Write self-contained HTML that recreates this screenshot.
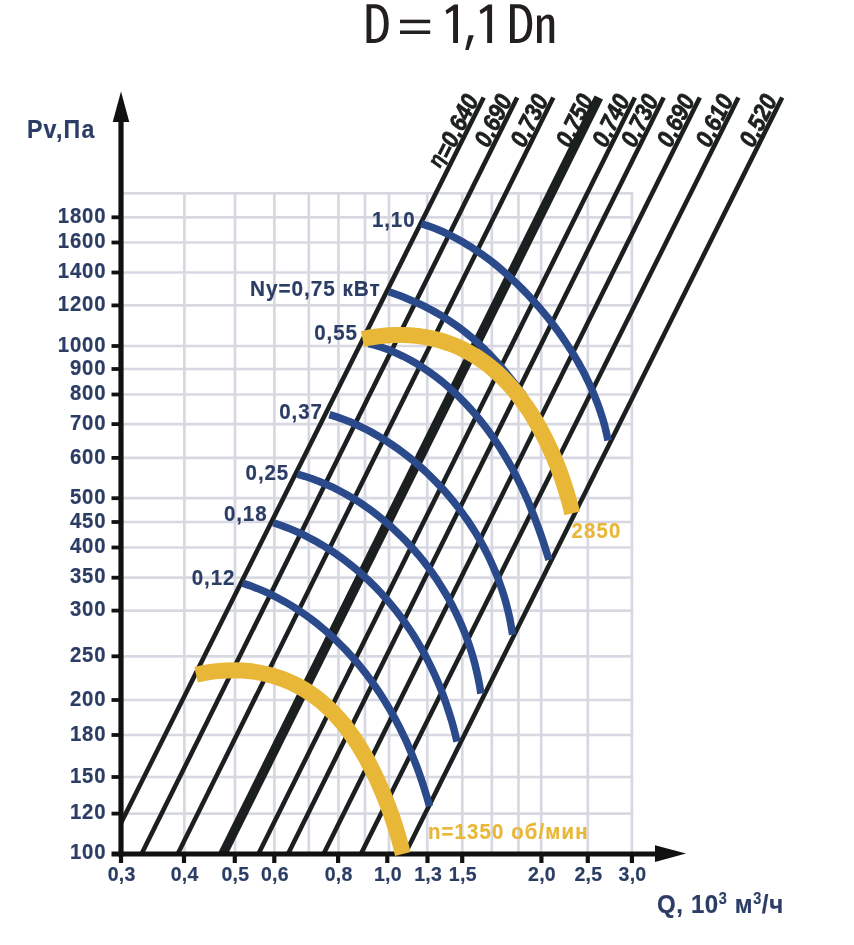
<!DOCTYPE html>
<html><head><meta charset="utf-8"><title>D = 1,1 Dn</title>
<style>html,body{margin:0;padding:0;background:#fff}svg{display:block}text{font-family:"Liberation Sans",sans-serif}</style></head><body>
<svg width="854" height="945" viewBox="0 0 854 945" style="will-change:transform">
<rect width="854" height="945" fill="#fff"/>
<g stroke="#d8d8e3" stroke-width="2.7" fill="none">
<line x1="184.4" y1="192.1" x2="184.4" y2="854"/>
<line x1="235.0" y1="192.1" x2="235.0" y2="854"/>
<line x1="274.4" y1="192.1" x2="274.4" y2="854"/>
<line x1="308.8" y1="192.1" x2="308.8" y2="854"/>
<line x1="338.5" y1="192.1" x2="338.5" y2="854"/>
<line x1="365.0" y1="192.1" x2="365.0" y2="854"/>
<line x1="389.0" y1="192.1" x2="389.0" y2="854"/>
<line x1="427.3" y1="192.1" x2="427.3" y2="854"/>
<line x1="462.3" y1="192.1" x2="462.3" y2="854"/>
<line x1="491.8" y1="192.1" x2="491.8" y2="854"/>
<line x1="518.5" y1="192.1" x2="518.5" y2="854"/>
<line x1="541.2" y1="192.1" x2="541.2" y2="854"/>
<line x1="587.8" y1="192.1" x2="587.8" y2="854"/>
<line x1="631.9" y1="192.1" x2="631.9" y2="854"/>
<line x1="121" y1="193.4" x2="633.2" y2="193.4"/>
<line x1="121" y1="217.3" x2="633.2" y2="217.3"/>
<line x1="121" y1="242.5" x2="633.2" y2="242.5"/>
<line x1="121" y1="272.5" x2="633.2" y2="272.5"/>
<line x1="121" y1="305.4" x2="633.2" y2="305.4"/>
<line x1="121" y1="346.0" x2="633.2" y2="346.0"/>
<line x1="121" y1="369.0" x2="633.2" y2="369.0"/>
<line x1="121" y1="394.5" x2="633.2" y2="394.5"/>
<line x1="121" y1="424.1" x2="633.2" y2="424.1"/>
<line x1="121" y1="457.9" x2="633.2" y2="457.9"/>
<line x1="121" y1="498.2" x2="633.2" y2="498.2"/>
<line x1="121" y1="522.0" x2="633.2" y2="522.0"/>
<line x1="121" y1="547.5" x2="633.2" y2="547.5"/>
<line x1="121" y1="577.7" x2="633.2" y2="577.7"/>
<line x1="121" y1="610.6" x2="633.2" y2="610.6"/>
<line x1="121" y1="656.3" x2="633.2" y2="656.3"/>
<line x1="121" y1="700.0" x2="633.2" y2="700.0"/>
<line x1="121" y1="735.0" x2="633.2" y2="735.0"/>
<line x1="121" y1="777.0" x2="633.2" y2="777.0"/>
<line x1="121" y1="813.6" x2="633.2" y2="813.6"/>
</g>
<g stroke="#1c1f1f" fill="none" stroke-linecap="butt">
<line x1="483.7" y1="97.5" x2="121" y2="823.0" stroke-width="4.6"/>
<line x1="517.2" y1="97.5" x2="141.5" y2="854.0" stroke-width="4.6"/>
<line x1="553.3" y1="97.5" x2="177.7" y2="854.0" stroke-width="4.6"/>
<line x1="598.8" y1="97.5" x2="222.8" y2="854.0" stroke-width="9.4"/>
<line x1="634.9" y1="97.5" x2="258.4" y2="854.0" stroke-width="4.6"/>
<line x1="663.7" y1="97.5" x2="288.0" y2="854.0" stroke-width="4.6"/>
<line x1="699.8" y1="97.5" x2="323.6" y2="854.0" stroke-width="4.6"/>
<line x1="738.4" y1="97.5" x2="360.9" y2="854.0" stroke-width="4.6"/>
<line x1="782.2" y1="97.5" x2="405.0" y2="854.0" stroke-width="4.6"/>
</g>
<g stroke="#2b4a8b" stroke-width="7.5" fill="none">
<path d="M421.3,223.7 L428.6,226.1 L435.8,228.8 L442.9,231.8 L449.8,235.0 L456.5,238.5 L463.2,242.2 L469.7,246.2 L476.0,250.3 L482.3,254.6 L488.4,259.1 L494.5,263.8 L500.4,268.7 L506.1,273.7 L511.8,278.8 L517.4,284.1 L522.8,289.5 L528.1,295.0 L533.3,300.7 L538.4,306.4 L543.4,312.3 L548.2,318.2 L552.9,324.3 L557.5,330.4 L561.9,336.7 L566.2,343.0 L570.4,349.4 L574.4,355.9 L578.2,362.4 L581.9,369.1 L585.4,375.8 L588.7,382.6 L591.9,389.5 L594.8,396.5 L597.6,403.6 L600.1,410.7 L602.5,418.0 L604.6,425.4 L606.4,432.8 L608.0,440.4"/>
<path d="M389.0,291.7 L393.2,293.2 L397.3,294.7 L401.5,296.3 L405.6,298.0 L409.7,299.7 L413.8,301.5 L417.9,303.3 L422.0,305.2 L426.0,307.2 L429.9,309.3 L433.9,311.4 L437.7,313.6 L441.6,315.8 L445.4,318.2 L449.1,320.6 L452.8,323.1 L456.5,325.6 L460.1,328.2 L463.6,330.9 L467.1,333.7 L470.6,336.5 L473.9,339.4 L477.3,342.3 L480.5,345.4 L483.8,348.4 L486.9,351.6 L490.0,354.7 L493.1,358.0 L496.1,361.3 L499.1,364.6 L502.0,368.0 L504.9,371.4 L507.7,374.8 L510.5,378.3 L513.3,381.8 L516.0,385.3 L518.7,388.9 L521.4,392.4 L524.0,396.0"/>
<path d="M368.5,343.5 L375.7,345.4 L382.9,347.7 L389.9,350.3 L396.8,353.3 L403.6,356.5 L410.2,360.0 L416.8,363.8 L423.2,367.8 L429.5,372.1 L435.6,376.5 L441.6,381.2 L447.4,386.1 L453.1,391.2 L458.6,396.4 L463.9,401.8 L469.1,407.4 L474.2,413.0 L479.1,418.9 L483.8,424.8 L488.3,430.8 L492.8,437.0 L497.0,443.2 L501.1,449.6 L505.0,456.0 L508.8,462.5 L512.5,469.0 L516.0,475.7 L519.3,482.4 L522.6,489.1 L525.7,496.0 L528.7,502.8 L531.5,509.8 L534.3,516.8 L536.9,523.8 L539.5,530.9 L542.0,538.1 L544.4,545.3 L546.7,552.6 L549.0,559.9"/>
<path d="M329.4,414.6 L336.7,416.9 L343.9,419.5 L351.0,422.3 L358.1,425.5 L365.0,428.8 L371.8,432.4 L378.5,436.2 L385.1,440.2 L391.6,444.5 L398.0,448.9 L404.2,453.5 L410.3,458.3 L416.3,463.2 L422.1,468.4 L427.8,473.6 L433.3,479.1 L438.7,484.6 L444.0,490.3 L449.1,496.2 L454.0,502.1 L458.8,508.2 L463.3,514.4 L467.8,520.7 L472.0,527.1 L476.1,533.6 L480.0,540.2 L483.7,547.0 L487.2,553.8 L490.5,560.7 L493.6,567.7 L496.6,574.7 L499.3,581.9 L501.8,589.2 L504.2,596.5 L506.3,604.0 L508.2,611.5 L509.9,619.1 L511.3,626.8 L512.6,634.6"/>
<path d="M297.3,474.2 L304.7,476.3 L312.1,478.8 L319.3,481.5 L326.4,484.5 L333.5,487.7 L340.4,491.2 L347.2,494.9 L353.8,498.8 L360.4,502.9 L366.8,507.3 L373.0,511.8 L379.2,516.6 L385.2,521.5 L391.0,526.6 L396.7,531.9 L402.3,537.3 L407.7,542.9 L412.9,548.6 L418.0,554.4 L422.9,560.4 L427.6,566.6 L432.2,572.8 L436.6,579.2 L440.8,585.7 L444.8,592.3 L448.7,598.9 L452.4,605.7 L455.8,612.6 L459.1,619.6 L462.2,626.7 L465.1,633.8 L467.8,641.0 L470.3,648.3 L472.6,655.7 L474.7,663.2 L476.5,670.7 L478.2,678.3 L479.7,686.0 L480.9,693.7"/>
<path d="M273.4,522.7 L280.6,525.2 L287.8,527.9 L294.8,530.9 L301.8,534.0 L308.6,537.5 L315.4,541.1 L322.0,544.9 L328.5,548.9 L334.9,553.2 L341.2,557.6 L347.3,562.2 L353.3,567.0 L359.2,571.9 L364.9,577.0 L370.5,582.3 L375.9,587.7 L381.2,593.2 L386.3,598.9 L391.3,604.8 L396.1,610.7 L400.7,616.8 L405.2,623.0 L409.6,629.3 L413.8,635.7 L417.8,642.3 L421.6,648.9 L425.3,655.6 L428.8,662.4 L432.2,669.3 L435.4,676.2 L438.4,683.2 L441.3,690.3 L444.0,697.5 L446.5,704.7 L448.9,712.0 L451.2,719.3 L453.3,726.7 L455.2,734.1 L457.0,741.6"/>
<path d="M242.5,583.1 L249.9,585.6 L257.1,588.4 L264.3,591.4 L271.4,594.7 L278.3,598.2 L285.1,601.9 L291.8,605.9 L298.4,610.1 L304.8,614.5 L311.1,619.0 L317.2,623.8 L323.3,628.8 L329.1,633.9 L334.9,639.1 L340.4,644.6 L345.9,650.2 L351.1,655.9 L356.3,661.7 L361.2,667.7 L366.1,673.8 L370.7,680.1 L375.2,686.4 L379.6,692.8 L383.8,699.4 L387.8,706.0 L391.7,712.7 L395.5,719.5 L399.1,726.4 L402.5,733.3 L405.9,740.3 L409.0,747.4 L412.0,754.6 L414.9,761.8 L417.7,769.1 L420.3,776.4 L422.8,783.8 L425.1,791.2 L427.4,798.7 L429.5,806.2"/>
</g>
<g stroke="#111" fill="none">
<line x1="121" y1="118" x2="121" y2="856.4" stroke-width="5.2"/>
<line x1="111.5" y1="854" x2="658" y2="854" stroke-width="4.8"/>
<line x1="111.5" y1="217.3" x2="121" y2="217.3" stroke-width="3.8"/>
<line x1="111.5" y1="242.5" x2="121" y2="242.5" stroke-width="3.8"/>
<line x1="111.5" y1="272.5" x2="121" y2="272.5" stroke-width="3.8"/>
<line x1="111.5" y1="305.4" x2="121" y2="305.4" stroke-width="3.8"/>
<line x1="111.5" y1="346.0" x2="121" y2="346.0" stroke-width="3.8"/>
<line x1="111.5" y1="369.0" x2="121" y2="369.0" stroke-width="3.8"/>
<line x1="111.5" y1="394.5" x2="121" y2="394.5" stroke-width="3.8"/>
<line x1="111.5" y1="424.1" x2="121" y2="424.1" stroke-width="3.8"/>
<line x1="111.5" y1="457.9" x2="121" y2="457.9" stroke-width="3.8"/>
<line x1="111.5" y1="498.2" x2="121" y2="498.2" stroke-width="3.8"/>
<line x1="111.5" y1="522.0" x2="121" y2="522.0" stroke-width="3.8"/>
<line x1="111.5" y1="547.5" x2="121" y2="547.5" stroke-width="3.8"/>
<line x1="111.5" y1="577.7" x2="121" y2="577.7" stroke-width="3.8"/>
<line x1="111.5" y1="610.6" x2="121" y2="610.6" stroke-width="3.8"/>
<line x1="111.5" y1="656.3" x2="121" y2="656.3" stroke-width="3.8"/>
<line x1="111.5" y1="700.0" x2="121" y2="700.0" stroke-width="3.8"/>
<line x1="111.5" y1="735.0" x2="121" y2="735.0" stroke-width="3.8"/>
<line x1="111.5" y1="777.0" x2="121" y2="777.0" stroke-width="3.8"/>
<line x1="111.5" y1="813.6" x2="121" y2="813.6" stroke-width="3.8"/>
<line x1="121.0" y1="854" x2="121.0" y2="863" stroke-width="4.2"/>
<line x1="184.0" y1="854" x2="184.0" y2="863" stroke-width="4.2"/>
<line x1="234.8" y1="854" x2="234.8" y2="863" stroke-width="4.2"/>
<line x1="274.3" y1="854" x2="274.3" y2="863" stroke-width="4.2"/>
<line x1="338.1" y1="854" x2="338.1" y2="863" stroke-width="4.2"/>
<line x1="387.3" y1="854" x2="387.3" y2="863" stroke-width="4.2"/>
<line x1="427.5" y1="854" x2="427.5" y2="863" stroke-width="4.2"/>
<line x1="462.2" y1="854" x2="462.2" y2="863" stroke-width="4.2"/>
<line x1="541.4" y1="854" x2="541.4" y2="863" stroke-width="4.2"/>
<line x1="587.8" y1="854" x2="587.8" y2="863" stroke-width="4.2"/>
<line x1="631.9" y1="854" x2="631.9" y2="863" stroke-width="4.2"/>
</g>
<path d="M121,91.5 L129.3,122 L112.7,122 Z" fill="#111"/>
<path d="M686,853.6 L655,845.3 L655,861.9 Z" fill="#111"/>
<g stroke="#e9b737" stroke-width="16" fill="none">
<path d="M196.1,674.7 L203.4,673.1 L211.0,671.8 L218.8,670.9 L226.8,670.4 L234.9,670.2 L243.0,670.6 L251.1,671.3 L259.1,672.5 L266.9,674.2 L274.6,676.3 L282.2,678.8 L289.5,681.8 L296.6,685.2 L303.5,689.0 L310.1,693.1 L316.4,697.7 L322.5,702.6 L328.3,707.8 L333.9,713.3 L339.2,719.1 L344.3,725.1 L349.1,731.4 L353.7,737.9 L358.1,744.5 L362.2,751.3 L366.2,758.2 L369.9,765.2 L373.5,772.3 L377.0,779.5 L380.2,786.8 L383.3,794.0 L386.3,801.4 L389.1,808.7 L391.8,816.1 L394.3,823.6 L396.7,831.1 L398.9,838.6 L400.9,846.3 L402.8,854.0"/>
<path d="M362.5,339.0 L370.1,337.5 L377.9,336.4 L385.8,335.5 L393.8,335.1 L401.9,335.0 L409.9,335.3 L417.9,336.0 L425.8,337.2 L433.7,338.8 L441.3,340.8 L448.9,343.3 L456.2,346.1 L463.4,349.4 L470.3,353.1 L477.1,357.2 L483.6,361.7 L489.9,366.5 L495.9,371.6 L501.7,377.0 L507.3,382.7 L512.6,388.6 L517.7,394.8 L522.5,401.2 L527.2,407.7 L531.6,414.4 L535.7,421.3 L539.7,428.2 L543.4,435.2 L547.0,442.2 L550.3,449.4 L553.5,456.5 L556.5,463.6 L559.3,470.7 L561.9,477.9 L564.3,485.0 L566.5,492.1 L568.6,499.2 L570.5,506.3 L572.2,513.4"/>
</g>
<text transform="translate(106.3,222.9) scale(0.925,1)" font-size="22.0" letter-spacing="0.86" text-anchor="end" fill="#2b3d65" stroke="#2b3d65" stroke-width="0.2" font-weight="bold">1800</text>
<text transform="translate(106.3,248.1) scale(0.925,1)" font-size="22.0" letter-spacing="0.86" text-anchor="end" fill="#2b3d65" stroke="#2b3d65" stroke-width="0.2" font-weight="bold">1600</text>
<text transform="translate(106.3,278.1) scale(0.925,1)" font-size="22.0" letter-spacing="0.86" text-anchor="end" fill="#2b3d65" stroke="#2b3d65" stroke-width="0.2" font-weight="bold">1400</text>
<text transform="translate(106.3,311.0) scale(0.925,1)" font-size="22.0" letter-spacing="0.86" text-anchor="end" fill="#2b3d65" stroke="#2b3d65" stroke-width="0.2" font-weight="bold">1200</text>
<text transform="translate(106.3,351.6) scale(0.925,1)" font-size="22.0" letter-spacing="0.86" text-anchor="end" fill="#2b3d65" stroke="#2b3d65" stroke-width="0.2" font-weight="bold">1000</text>
<text transform="translate(106.3,374.6) scale(0.925,1)" font-size="22.0" letter-spacing="0.86" text-anchor="end" fill="#2b3d65" stroke="#2b3d65" stroke-width="0.2" font-weight="bold">900</text>
<text transform="translate(106.3,400.1) scale(0.925,1)" font-size="22.0" letter-spacing="0.86" text-anchor="end" fill="#2b3d65" stroke="#2b3d65" stroke-width="0.2" font-weight="bold">800</text>
<text transform="translate(106.3,429.7) scale(0.925,1)" font-size="22.0" letter-spacing="0.86" text-anchor="end" fill="#2b3d65" stroke="#2b3d65" stroke-width="0.2" font-weight="bold">700</text>
<text transform="translate(106.3,463.5) scale(0.925,1)" font-size="22.0" letter-spacing="0.86" text-anchor="end" fill="#2b3d65" stroke="#2b3d65" stroke-width="0.2" font-weight="bold">600</text>
<text transform="translate(106.3,503.8) scale(0.925,1)" font-size="22.0" letter-spacing="0.86" text-anchor="end" fill="#2b3d65" stroke="#2b3d65" stroke-width="0.2" font-weight="bold">500</text>
<text transform="translate(106.3,527.6) scale(0.925,1)" font-size="22.0" letter-spacing="0.86" text-anchor="end" fill="#2b3d65" stroke="#2b3d65" stroke-width="0.2" font-weight="bold">450</text>
<text transform="translate(106.3,553.1) scale(0.925,1)" font-size="22.0" letter-spacing="0.86" text-anchor="end" fill="#2b3d65" stroke="#2b3d65" stroke-width="0.2" font-weight="bold">400</text>
<text transform="translate(106.3,583.3) scale(0.925,1)" font-size="22.0" letter-spacing="0.86" text-anchor="end" fill="#2b3d65" stroke="#2b3d65" stroke-width="0.2" font-weight="bold">350</text>
<text transform="translate(106.3,616.2) scale(0.925,1)" font-size="22.0" letter-spacing="0.86" text-anchor="end" fill="#2b3d65" stroke="#2b3d65" stroke-width="0.2" font-weight="bold">300</text>
<text transform="translate(106.3,661.9) scale(0.925,1)" font-size="22.0" letter-spacing="0.86" text-anchor="end" fill="#2b3d65" stroke="#2b3d65" stroke-width="0.2" font-weight="bold">250</text>
<text transform="translate(106.3,705.6) scale(0.925,1)" font-size="22.0" letter-spacing="0.86" text-anchor="end" fill="#2b3d65" stroke="#2b3d65" stroke-width="0.2" font-weight="bold">200</text>
<text transform="translate(106.3,740.6) scale(0.925,1)" font-size="22.0" letter-spacing="0.86" text-anchor="end" fill="#2b3d65" stroke="#2b3d65" stroke-width="0.2" font-weight="bold">180</text>
<text transform="translate(106.3,782.6) scale(0.925,1)" font-size="22.0" letter-spacing="0.86" text-anchor="end" fill="#2b3d65" stroke="#2b3d65" stroke-width="0.2" font-weight="bold">150</text>
<text transform="translate(106.3,819.2) scale(0.925,1)" font-size="22.0" letter-spacing="0.86" text-anchor="end" fill="#2b3d65" stroke="#2b3d65" stroke-width="0.2" font-weight="bold">120</text>
<text transform="translate(106.3,859.2) scale(0.925,1)" font-size="22.0" letter-spacing="0.86" text-anchor="end" fill="#2b3d65" stroke="#2b3d65" stroke-width="0.2" font-weight="bold">100</text>
<text transform="translate(121.6,881.0) scale(0.93,1)" font-size="21.0" letter-spacing="0.27" text-anchor="middle" fill="#2b3d65" stroke="#2b3d65" stroke-width="0.2" font-weight="bold">0,3</text>
<text transform="translate(184.6,881.0) scale(0.93,1)" font-size="21.0" letter-spacing="0.27" text-anchor="middle" fill="#2b3d65" stroke="#2b3d65" stroke-width="0.2" font-weight="bold">0,4</text>
<text transform="translate(235.4,881.0) scale(0.93,1)" font-size="21.0" letter-spacing="0.27" text-anchor="middle" fill="#2b3d65" stroke="#2b3d65" stroke-width="0.2" font-weight="bold">0,5</text>
<text transform="translate(274.90000000000003,881.0) scale(0.93,1)" font-size="21.0" letter-spacing="0.27" text-anchor="middle" fill="#2b3d65" stroke="#2b3d65" stroke-width="0.2" font-weight="bold">0,6</text>
<text transform="translate(338.70000000000005,881.0) scale(0.93,1)" font-size="21.0" letter-spacing="0.27" text-anchor="middle" fill="#2b3d65" stroke="#2b3d65" stroke-width="0.2" font-weight="bold">0,8</text>
<text transform="translate(387.90000000000003,881.0) scale(0.93,1)" font-size="21.0" letter-spacing="0.27" text-anchor="middle" fill="#2b3d65" stroke="#2b3d65" stroke-width="0.2" font-weight="bold">1,0</text>
<text transform="translate(428.1,881.0) scale(0.93,1)" font-size="21.0" letter-spacing="0.27" text-anchor="middle" fill="#2b3d65" stroke="#2b3d65" stroke-width="0.2" font-weight="bold">1,3</text>
<text transform="translate(462.8,881.0) scale(0.93,1)" font-size="21.0" letter-spacing="0.27" text-anchor="middle" fill="#2b3d65" stroke="#2b3d65" stroke-width="0.2" font-weight="bold">1,5</text>
<text transform="translate(542.0,881.0) scale(0.93,1)" font-size="21.0" letter-spacing="0.27" text-anchor="middle" fill="#2b3d65" stroke="#2b3d65" stroke-width="0.2" font-weight="bold">2,0</text>
<text transform="translate(588.4,881.0) scale(0.93,1)" font-size="21.0" letter-spacing="0.27" text-anchor="middle" fill="#2b3d65" stroke="#2b3d65" stroke-width="0.2" font-weight="bold">2,5</text>
<text transform="translate(632.5,881.0) scale(0.93,1)" font-size="21.0" letter-spacing="0.27" text-anchor="middle" fill="#2b3d65" stroke="#2b3d65" stroke-width="0.2" font-weight="bold">3,0</text>
<text transform="translate(250.0,296.2) scale(0.935,1)" font-size="22.2" letter-spacing="1.02" text-anchor="start" fill="#2b3d65" stroke="#2b3d65" stroke-width="0.2" font-weight="bold">Ny=0,75 кВт</text>
<text transform="translate(372,227.2) scale(0.915,1)" font-size="22.4" letter-spacing="0.98" text-anchor="start" fill="#2b3d65" stroke="#2b3d65" stroke-width="0.2" font-weight="bold">1,10</text>
<text transform="translate(314.3,339.8) scale(0.915,1)" font-size="22.4" letter-spacing="0.98" text-anchor="start" fill="#2b3d65" stroke="#2b3d65" stroke-width="0.2" font-weight="bold">0,55</text>
<text transform="translate(279.3,418.9) scale(0.915,1)" font-size="22.4" letter-spacing="0.98" text-anchor="start" fill="#2b3d65" stroke="#2b3d65" stroke-width="0.2" font-weight="bold">0,37</text>
<text transform="translate(245.6,480.4) scale(0.915,1)" font-size="22.4" letter-spacing="0.98" text-anchor="start" fill="#2b3d65" stroke="#2b3d65" stroke-width="0.2" font-weight="bold">0,25</text>
<text transform="translate(224,521.1) scale(0.915,1)" font-size="22.4" letter-spacing="0.98" text-anchor="start" fill="#2b3d65" stroke="#2b3d65" stroke-width="0.2" font-weight="bold">0,18</text>
<text transform="translate(191.8,585.3) scale(0.915,1)" font-size="22.4" letter-spacing="0.98" text-anchor="start" fill="#2b3d65" stroke="#2b3d65" stroke-width="0.2" font-weight="bold">0,12</text>
<text transform="translate(26.9,138.2) scale(0.905,1)" font-size="25.6" letter-spacing="1.33" text-anchor="start" fill="#2b3d65" stroke="#2b3d65" stroke-width="0.2" font-weight="bold">Pv,Па</text>
<text transform="translate(657,913.0) scale(0.905,1)" font-size="26.6" letter-spacing="0.66" text-anchor="start" fill="#2b3d65" stroke="#2b3d65" stroke-width="0.2" font-weight="bold">Q, 10<tspan font-size="16" dy="-9.5">3</tspan><tspan dy="9.5"> м</tspan><tspan font-size="16" dy="-9.5">3</tspan><tspan dy="9.5">/ч</tspan></text>
<text transform="translate(428,839.0) scale(0.925,1)" font-size="22.0" letter-spacing="1.24" text-anchor="start" fill="#e9b737" stroke="#e9b737" stroke-width="0.2" font-weight="bold">n=1350 об/мин</text>
<text transform="translate(571.5,538.4) scale(0.925,1)" font-size="22.0" letter-spacing="1.30" text-anchor="start" fill="#e9b737" stroke="#e9b737" stroke-width="0.2" font-weight="bold">2850</text>
<g fill="#1c1f1f" font-weight="bold" font-style="italic" font-size="24.5" text-anchor="end" stroke="#1c1f1f" stroke-width="0.75">
<text transform="translate(479.23,99.74) rotate(-63.51) scale(0.895,1)" x="0" y="0"><tspan dy="-4.5" font-size="21">η</tspan><tspan dy="4.5">=0,640</tspan></text>
<text transform="translate(512.73,99.74) rotate(-63.51) scale(0.895,1)" x="0" y="0">0,690</text>
<text transform="translate(548.83,99.74) rotate(-63.51) scale(0.895,1)" x="0" y="0">0,730</text>
<text transform="translate(594.24,99.70) rotate(-63.51) scale(0.895,1)" x="0" y="0">0,750</text>
<text transform="translate(630.43,99.74) rotate(-63.51) scale(0.895,1)" x="0" y="0">0,740</text>
<text transform="translate(659.23,99.74) rotate(-63.51) scale(0.895,1)" x="0" y="0">0,730</text>
<text transform="translate(695.33,99.74) rotate(-63.51) scale(0.895,1)" x="0" y="0">0,690</text>
<text transform="translate(733.93,99.74) rotate(-63.51) scale(0.895,1)" x="0" y="0">0,610</text>
<text transform="translate(777.73,99.74) rotate(-63.51) scale(0.895,1)" x="0" y="0">0,520</text>
</g>
<g fill="#231f20" fill-rule="evenodd">
<path d="M366.5,4.3 H374.5 C384.0,4.3 388.7,11 388.7,23.6 C388.7,36.2 384.0,42.9 374.5,42.9 H366.5 Z M371.3,8.2 V39 H374.3 C380.5,39 383.9,33.8 383.9,23.6 C383.9,13.4 380.5,8.2 374.3,8.2 Z"/>
<rect x="400" y="19.7" width="30.2" height="3.5"/><rect x="400" y="30.5" width="30.2" height="3.5"/>
<path d="M458.0,4.4 V42.9 H453.1 V10.3 L446.7,14.3 L445.5,10.6 L454.2,4.4 Z"/>
<path d="M468.6,35.2 H473.8 L468.6,49.9 H465.2 Z"/>
<path d="M492.1,4.4 V42.9 H487.20000000000005 V10.3 L480.8,14.3 L479.6,10.6 L488.3,4.4 Z"/>
<path d="M510.0,4.3 H518.0 C527.5,4.3 532.2,11 532.2,23.6 C532.2,36.2 527.5,42.9 518.0,42.9 H510.0 Z M514.8,8.2 V39 H517.8 C524.0,39 527.4,33.8 527.4,23.6 C527.4,13.4 524.0,8.2 517.8,8.2 Z"/>
<path d="M537,42.9 V15.4 H540.9 L541.3,19.0 C543,16.2 545.6,14.6 548.5,14.6 C552.4,14.6 554.2,17.3 554.2,22.5 V42.9 H549.5 V23 C549.5,20 548.6,18.6 546.7,18.6 C544.8,18.6 542.9,20.2 541.7,22.6 V42.9 Z"/>
</g>
</svg></body></html>
